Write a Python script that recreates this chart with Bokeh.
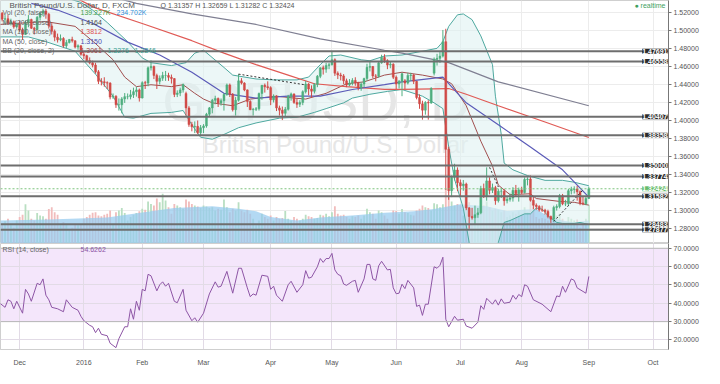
from bokeh.plotting import figure
from bokeh.models import (ColumnDataSource, Range1d, FixedTicker, PrintfTickFormatter,
                          Label, Span, BoxAnnotation, Grid)
from bokeh.layouts import column
from bokeh.embed import file_html
from bokeh.resources import INLINE

# ---------------- data (bar index 0 = 1 Dec 2015, trading days) ----------------
bars = list(range(-6, 196))

opens = [
    1.5190, 1.5125, 1.5130, 1.5080, 1.5095, 1.5040,
    1.5065, 1.5005, 1.4955, 1.5085, 1.5120, 1.5025, 1.5010, 1.5145, 1.5190, 1.5215, 1.5180,
    1.5050, 1.4990, 1.4925, 1.4895, 1.4910, 1.4830, 1.4865, 1.4900, 1.4885, 1.4815, 1.4830,
    1.4735, 1.4720, 1.4665, 1.4640, 1.4615, 1.4540, 1.4435, 1.4430, 1.4420, 1.4415, 1.4260,
    1.4270, 1.4175, 1.4175, 1.4240, 1.4265, 1.4265, 1.4285, 1.4320, 1.4340,
    1.4250, 1.4420, 1.4415, 1.4585, 1.4600, 1.4500, 1.4435, 1.4470, 1.4500, 1.4500, 1.4480,
    1.4465, 1.4290, 1.4305, 1.4340, 1.4300, 1.4140, 1.3955, 1.3930, 1.3935, 1.3865,
    1.3920, 1.3940, 1.4070, 1.4140, 1.4225, 1.4245, 1.4195, 1.4220, 1.4290, 1.4395, 1.4290,
    1.4120, 1.4225, 1.4440, 1.4415, 1.4340, 1.4210, 1.4120, 1.4125, 1.4130, 1.4300, 1.4390, 1.4375,
    1.4365, 1.4230, 1.4270, 1.4140, 1.4115, 1.4080, 1.4125, 1.4270, 1.4295, 1.4200, 1.4180,
    1.4200, 1.4320, 1.4405, 1.4350, 1.4325, 1.4400, 1.4490, 1.4585, 1.4570, 1.4610,
    1.4620, 1.4675, 1.4525, 1.4505, 1.4495, 1.4440, 1.4395, 1.4415, 1.4445, 1.4415, 1.4365,
    1.4405, 1.4465, 1.4590, 1.4600, 1.4495, 1.4490, 1.4640, 1.4700, 1.4665, 1.4615, 1.4625,
    1.4480, 1.4405, 1.4435, 1.4440, 1.4415, 1.4500, 1.4505, 1.4435, 1.4255, 1.4185, 1.4115,
    1.4200, 1.4195, 1.4525, 1.4680, 1.4690, 1.4715, 1.4875, 1.3680, 1.3220, 1.3370, 1.3450,
    1.3310, 1.3275, 1.3295, 1.3030, 1.2935, 1.2920, 1.2955, 1.2975, 1.3245, 1.3165, 1.3330,
    1.3225, 1.3255, 1.3110, 1.3215, 1.3215, 1.3110, 1.3125, 1.3140, 1.3225, 1.3190,
    1.3230, 1.3200, 1.3345, 1.3350, 1.3115, 1.3060, 1.3045, 1.3010, 1.3005, 1.2990, 1.2935,
    1.2905, 1.3035, 1.3045, 1.3165, 1.3075, 1.3075, 1.3220, 1.3235, 1.3240, 1.3210, 1.3085, 1.3075,
    1.31357,
]
highs = [
    1.5205, 1.5170, 1.5170, 1.5130, 1.5110, 1.5085,
    1.5105, 1.5030, 1.5110, 1.5170, 1.5130, 1.5040, 1.5160, 1.5200, 1.5240, 1.5240, 1.5195,
    1.5080, 1.5010, 1.4965, 1.4955, 1.4925, 1.4895, 1.4905, 1.4930, 1.4890, 1.4845, 1.4835,
    1.4760, 1.4730, 1.4700, 1.4665, 1.4640, 1.4560, 1.4470, 1.4480, 1.4435, 1.4425, 1.4300,
    1.4280, 1.4245, 1.4260, 1.4305, 1.4300, 1.4340, 1.4365, 1.4375, 1.4355,
    1.4435, 1.4440, 1.4600, 1.4668, 1.4610, 1.4520, 1.4500, 1.4540, 1.4550, 1.4530, 1.4510,
    1.4470, 1.4335, 1.4365, 1.4410, 1.4320, 1.4160, 1.3985, 1.3990, 1.4000, 1.3950,
    1.3960, 1.4085, 1.4150, 1.4240, 1.4275, 1.4255, 1.4245, 1.4300, 1.4410, 1.4410, 1.4305,
    1.4260, 1.4515, 1.4470, 1.4425, 1.4345, 1.4225, 1.4140, 1.4150, 1.4310, 1.4395, 1.4410, 1.4435,
    1.4380, 1.4290, 1.4280, 1.4165, 1.4155, 1.4150, 1.4285, 1.4310, 1.4300, 1.4240, 1.4225,
    1.4335, 1.4440, 1.4415, 1.4390, 1.4415, 1.4505, 1.4590, 1.4610, 1.4640, 1.4640,
    1.4770, 1.4690, 1.4545, 1.4530, 1.4515, 1.4465, 1.4460, 1.4470, 1.4480, 1.4430, 1.4425,
    1.4475, 1.4630, 1.4665, 1.4605, 1.4515, 1.4660, 1.4730, 1.4735, 1.4680, 1.4650, 1.4635,
    1.4500, 1.4450, 1.4530, 1.4460, 1.4530, 1.4530, 1.4515, 1.4440, 1.4290, 1.4220, 1.4215,
    1.4225, 1.4370, 1.4700, 1.4740, 1.4760, 1.5005, 1.5018, 1.3710, 1.3390, 1.3520, 1.3480,
    1.3345, 1.3340, 1.3310, 1.3040, 1.3030, 1.3055, 1.3030, 1.3275, 1.3300, 1.3480, 1.3370,
    1.3300, 1.3275, 1.3240, 1.3250, 1.3240, 1.3155, 1.3190, 1.3260, 1.3285, 1.3255,
    1.3265, 1.3370, 1.3370, 1.3390, 1.3155, 1.3080, 1.3060, 1.3055, 1.3020, 1.3010, 1.2945,
    1.3055, 1.3070, 1.3185, 1.3185, 1.3120, 1.3240, 1.3265, 1.3270, 1.3275, 1.3225, 1.3155, 1.3150,
    1.32659,
]
lows = [
    1.5100, 1.5065, 1.5065, 1.5055, 1.5020, 1.5020,
    1.4985, 1.4895, 1.4950, 1.5035, 1.5015, 1.4955, 1.5000, 1.5110, 1.5160, 1.5130, 1.5020,
    1.4955, 1.4880, 1.4865, 1.4880, 1.4810, 1.4805, 1.4855, 1.4865, 1.4800, 1.4785, 1.4720,
    1.4680, 1.4650, 1.4625, 1.4590, 1.4520, 1.4405, 1.4390, 1.4375, 1.4350, 1.4235, 1.4240,
    1.4140, 1.4110, 1.4080, 1.4195, 1.4235, 1.4235, 1.4250, 1.4265, 1.4210,
    1.4245, 1.4350, 1.4380, 1.4555, 1.4460, 1.4350, 1.4400, 1.4440, 1.4440, 1.4440, 1.4410,
    1.4260, 1.4260, 1.4270, 1.4310, 1.4055, 1.3930, 1.3880, 1.3860, 1.3850, 1.3835,
    1.3860, 1.3920, 1.4040, 1.4080, 1.4180, 1.4150, 1.4165, 1.4110, 1.4275, 1.4260, 1.4100,
    1.4055, 1.4210, 1.4400, 1.4325, 1.4150, 1.4115, 1.4055, 1.4105, 1.4110, 1.4230, 1.4310, 1.4340,
    1.4170, 1.4200, 1.4105, 1.4055, 1.4005, 1.4040, 1.4110, 1.4220, 1.4185, 1.4140, 1.4150,
    1.4170, 1.4300, 1.4280, 1.4255, 1.4300, 1.4370, 1.4470, 1.4510, 1.4530, 1.4570,
    1.4610, 1.4495, 1.4460, 1.4445, 1.4405, 1.4370, 1.4380, 1.4390, 1.4385, 1.4335, 1.4330,
    1.4370, 1.4440, 1.4545, 1.4470, 1.4435, 1.4475, 1.4630, 1.4640, 1.4570, 1.4580, 1.4460,
    1.4350, 1.4355, 1.4270, 1.4350, 1.4400, 1.4440, 1.4405, 1.4235, 1.4130, 1.4010, 1.4065,
    1.4010, 1.4185, 1.4500, 1.4610, 1.4640, 1.4700, 1.3229, 1.3120, 1.3150, 1.3335, 1.3215,
    1.3155, 1.3220, 1.3005, 1.2798, 1.2900, 1.2840, 1.2920, 1.2960, 1.3140, 1.3110, 1.3180,
    1.3195, 1.3065, 1.3090, 1.3140, 1.3055, 1.3080, 1.3100, 1.3100, 1.3155, 1.3100,
    1.3185, 1.3190, 1.3280, 1.3100, 1.3015, 1.3010, 1.2990, 1.2985, 1.2955, 1.2915, 1.2865,
    1.2885, 1.3000, 1.3025, 1.3060, 1.3050, 1.3050, 1.3180, 1.3190, 1.3110, 1.3060, 1.3060, 1.3060,
    1.31282,
]
closes = [
    1.5125, 1.5130, 1.5080, 1.5095, 1.5040, 1.5065,
    1.5005, 1.4955, 1.5085, 1.5120, 1.5025, 1.5010, 1.5145, 1.5190, 1.5215, 1.5180, 1.5050,
    1.4990, 1.4925, 1.4895, 1.4910, 1.4830, 1.4865, 1.4900, 1.4885, 1.4815, 1.4830, 1.4735,
    1.4720, 1.4665, 1.4640, 1.4615, 1.4540, 1.4435, 1.4430, 1.4420, 1.4415, 1.4260, 1.4270,
    1.4175, 1.4175, 1.4240, 1.4265, 1.4265, 1.4285, 1.4320, 1.4340, 1.4250,
    1.4420, 1.4415, 1.4585, 1.4600, 1.4500, 1.4435, 1.4470, 1.4500, 1.4500, 1.4480, 1.4465,
    1.4290, 1.4305, 1.4340, 1.4400, 1.4140, 1.3955, 1.3930, 1.3935, 1.3865, 1.3920,
    1.3940, 1.4070, 1.4140, 1.4225, 1.4245, 1.4195, 1.4220, 1.4290, 1.4395, 1.4290, 1.4120,
    1.4225, 1.4440, 1.4415, 1.4340, 1.4210, 1.4120, 1.4125, 1.4130, 1.4300, 1.4390, 1.4375, 1.4365,
    1.4230, 1.4270, 1.4140, 1.4115, 1.4080, 1.4125, 1.4270, 1.4295, 1.4200, 1.4180, 1.4200,
    1.4320, 1.4405, 1.4350, 1.4325, 1.4400, 1.4490, 1.4585, 1.4570, 1.4610, 1.4620,
    1.4675, 1.4525, 1.4505, 1.4495, 1.4440, 1.4395, 1.4415, 1.4445, 1.4415, 1.4365, 1.4405,
    1.4465, 1.4590, 1.4600, 1.4495, 1.4490, 1.4640, 1.4700, 1.4665, 1.4615, 1.4625, 1.4480,
    1.4405, 1.4435, 1.4520, 1.4415, 1.4500, 1.4505, 1.4435, 1.4255, 1.4185, 1.4115, 1.4200,
    1.4195, 1.4355, 1.4680, 1.4690, 1.4715, 1.4875, 1.3680, 1.3220, 1.3370, 1.3450, 1.3310,
    1.3275, 1.3295, 1.3030, 1.2935, 1.2920, 1.2955, 1.2975, 1.3245, 1.3165, 1.3330, 1.3225,
    1.3255, 1.3110, 1.3215, 1.3215, 1.3110, 1.3125, 1.3140, 1.3225, 1.3190, 1.3230,
    1.3200, 1.3345, 1.3350, 1.3115, 1.3060, 1.3045, 1.3010, 1.3005, 1.2990, 1.2935, 1.2905,
    1.3035, 1.3045, 1.3165, 1.3075, 1.3075, 1.3220, 1.3235, 1.3240, 1.3210, 1.3085, 1.3075, 1.3135,
    1.32424,
]
volumes = [  # thousands
    120, 135, 150, 110, 95, 140,
    160, 175, 238, 200, 150, 140, 185, 170, 165, 150, 209, 220, 190, 175, 110, 130, 120, 80, 95, 120, 110, 115,
    150, 160, 175, 186, 190, 170, 165, 175, 180, 200, 120, 190, 200, 215, 185, 140, 160, 175, 185, 195,
    210, 205, 255, 240, 230, 273, 250, 302, 260, 220, 180, 240, 230, 220, 210, 267, 255, 240, 230, 225, 215,
    230, 225, 215, 220, 200, 210, 205, 267, 220, 190, 210, 200, 250, 200, 190, 205, 180, 150, 110, 140, 180, 160, 150,
    170, 140, 160, 150, 155, 197, 150, 140, 160, 150, 140, 150, 175, 165, 160, 150, 155, 175, 170, 180, 165,
    190, 226, 180, 170, 175, 160, 150, 165, 160, 170, 150, 170, 210, 190, 180, 150, 200, 190, 170, 150, 110, 200,
    197, 180, 209, 190, 185, 175, 170, 200, 210, 230, 220, 215, 200, 244, 238, 220, 238, 331, 280, 255, 230, 240,
    230, 170, 240, 250, 220, 230, 215, 240, 230, 255, 220, 200, 210, 205, 190, 200, 160, 170, 190, 180, 195,
    180, 220, 190, 260, 220, 160, 150, 155, 150, 140, 130, 190, 170, 180, 150, 120, 160, 150, 140, 145, 95, 120, 150,
    234.702,
]

# volume moving average (20)
vma_x = [-7, 10, 30, 45, 53, 66, 75, 81, 86, 95, 103, 115, 125, 135, 142, 151, 160, 167, 172, 177, 181, 186, 190, 195]
vma_y = [139, 145, 157, 195, 215, 226, 210, 195, 160, 139, 157, 172, 186, 195, 209, 238, 226, 197, 205, 209, 165, 140, 128, 139.227]

# moving averages
ma200_x = [28, 34, 40, 59, 81, 103, 125, 131, 147, 164, 195]
ma200_y = [1.5400, 1.5353, 1.5300, 1.5183, 1.5066, 1.4907, 1.4780, 1.4748, 1.4642, 1.4429, 1.4164]
ma100_x = [18, 26, 43, 59, 70, 81, 92, 101, 112, 125, 131, 147, 153, 164, 180, 195]
ma100_y = [1.5380, 1.5250, 1.5066, 1.4886, 1.4748, 1.4620, 1.4504, 1.4408, 1.4376, 1.4345, 1.4345,
           1.4355, 1.4291, 1.4164, 1.3983, 1.3812]
ma50_x = [4, 13, 25, 37, 48, 59, 70, 81, 92, 103, 114, 125, 131, 145, 153, 164, 175, 186, 195]
ma50_y = [1.5300, 1.5226, 1.5080, 1.4870, 1.4727, 1.4536, 1.4302, 1.4249, 1.4270, 1.4270, 1.4344,
          1.4398, 1.4429, 1.4482, 1.4196, 1.3952, 1.3707, 1.3453, 1.3150]

# Bollinger bands (20, 2)
bb_up_x = [-7, 8, 15, 21, 25, 30, 37, 42, 45, 52, 57, 60, 63, 70, 73, 81, 87, 95, 99, 103, 106, 110,
           117, 120, 125, 131, 138, 143, 145, 147, 150, 152, 155, 158, 162, 163, 165, 166, 169, 174,
           180, 186, 190, 195]
bb_up_y = [1.5360, 1.5380, 1.5370, 1.5311, 1.5226, 1.5088, 1.4875, 1.4695, 1.4642, 1.4610, 1.4642,
           1.4748, 1.4780, 1.4589, 1.4504, 1.4461, 1.4451, 1.4451, 1.4482, 1.4620, 1.4716, 1.4727,
           1.4674, 1.4663, 1.4716, 1.4727, 1.4769, 1.4801, 1.4875, 1.5045, 1.5173, 1.5183, 1.5119,
           1.4939, 1.4620, 1.4270, 1.3846, 1.3527, 1.3453, 1.3389, 1.3336, 1.3336, 1.3315, 1.3276]
bb_lo_x = [-7, 3, 9, 19, 26, 32, 36, 39, 45, 52, 56, 59, 62, 66, 70, 75, 81, 89, 95, 101, 105, 111,
           114, 120, 126, 131, 138, 142, 145, 147, 149, 152, 154, 156, 159, 162, 164, 166, 168, 173,
           175, 177, 179, 181, 184, 186, 190, 192, 195]
bb_lo_y = [1.4928, 1.4928, 1.4875, 1.4769, 1.4514, 1.4270, 1.4036, 1.4026, 1.4079, 1.4090, 1.4111,
           1.3952, 1.3814, 1.3792, 1.3845, 1.3920, 1.3973, 1.4026, 1.4036, 1.4090, 1.4132, 1.4196,
           1.4249, 1.4291, 1.4323, 1.4344, 1.4270, 1.4196, 1.4132, 1.3707, 1.3347, 1.3028, 1.2646,
           1.2518, 1.2465, 1.2518, 1.2646, 1.2869, 1.2890, 1.2964, 1.2964, 1.3028, 1.3017, 1.2943,
           1.2869, 1.2858, 1.2858, 1.2869, 1.2846]
bb_mid_x = [-7, 9, 19, 26, 32, 36, 40, 45, 52, 56, 60, 63, 66, 73, 79, 88, 94, 98, 105, 112, 118,
            125, 131, 138, 145, 148, 153, 158, 162, 164, 168, 175, 177, 185, 190, 195]
bb_mid_y = [1.5066, 1.5098, 1.5045, 1.4854, 1.4674, 1.4482, 1.4376, 1.4397, 1.4376, 1.4397, 1.4302,
            1.4238, 1.4196, 1.4164, 1.4238, 1.4270, 1.4249, 1.4238, 1.4302, 1.4408, 1.4429, 1.4504,
            1.4536, 1.4504, 1.4461, 1.4408, 1.4164, 1.3771, 1.3495, 1.3283, 1.3177, 1.3187, 1.3134,
            1.3102, 1.3092, 1.3061]

# RSI (14)
rsi_x = [-7, -5, -4, -3, -2, -1, 1, 2, 3, 4, 6, 7, 8, 9, 10, 11, 13, 15, 16, 18, 20, 21, 22, 24, 25,
         26, 27, 28, 30, 31, 33, 34, 36, 37, 38, 39, 40, 41, 42, 43, 44, 45, 47, 48, 49, 50, 51, 53,
         54, 56, 57, 59, 60, 61, 63, 65, 67, 68, 69, 71, 73, 75, 76, 78, 79, 80, 81, 83, 85, 86, 87,
         88, 90, 92, 93, 95, 97, 98, 99, 100, 102, 103, 104, 105, 106, 107, 108, 109, 110, 111, 112,
         114, 115, 116, 118, 119, 120, 121, 122, 123, 124, 126, 127, 128, 129, 130, 131, 132, 133,
         135, 136, 137, 138, 139, 140, 142, 143, 144, 145, 146, 147, 149, 150, 152, 153, 155, 157,
         158, 159, 160, 162, 163, 164, 165, 166, 168, 169, 170, 171, 172, 173, 174, 176, 179, 182,
         184, 185, 186, 187, 189, 190, 191, 194, 195]
rsi_y = [40.3, 37.8, 41.9, 41.1, 37.0, 41.1, 34.6, 47.6, 45.1, 41.1, 50.9, 50.1, 53.3, 44.4, 41.9,
         37.8, 37.0, 35.4, 41.9, 37.8, 36.2, 32.9, 30.5, 28.0, 27.2, 24.0, 26.4, 23.1, 22.3, 18.2,
         15.8, 20.7, 27.2, 27.2, 37.0, 31.3, 41.1, 36.2, 47.6, 46.8, 55.8, 55.0, 46.8, 50.1, 51.7,
         49.3, 50.9, 41.1, 40.3, 47.6, 36.2, 30.5, 32.1, 29.7, 34.6, 45.1, 51.7, 48.8, 49.3, 57.4,
         45.5, 59.1, 59.1, 48.4, 43.6, 45.1, 44.4, 55.3, 54.7, 47.6, 49.3, 44.4, 41.1, 50.1, 52.0,
         46.0, 50.1, 57.8, 53.7, 54.2, 59.9, 64.4, 62.3, 64.4, 64.4, 67.2, 58.2, 55.8, 55.0, 50.5,
         49.8, 52.0, 52.5, 46.0, 53.3, 61.2, 61.2, 53.3, 52.5, 60.4, 62.9, 58.2, 58.5, 48.4, 45.2,
         45.5, 50.4, 48.0, 52.5, 48.4, 38.3, 39.0, 33.4, 39.5, 39.5, 59.9, 59.1, 60.7, 65.1, 31.3,
         27.2, 32.9, 30.8, 31.3, 27.6, 26.4, 29.7, 38.7, 36.7, 42.7, 39.5, 41.9, 39.0, 42.4, 40.0,
         40.6, 44.4, 42.2, 44.8, 43.6, 50.1, 49.3, 41.9, 39.5, 35.4, 44.0, 43.6, 49.3, 46.0, 53.3,
         52.5, 48.4, 45.5, 54.6262]

# horizontal support / resistance levels
levels = [1.47691, 1.46558, 1.40407, 1.38358, 1.35000, 1.33774, 1.31582, 1.28483, 1.27877]
last_price = 1.32424

# dotted trend lines (bar, price) -> (bar, price)
tl_x0 = [75, 161, 183]
tl_y0 = [1.4515, 1.3480, 1.2880]
tl_x1 = [98, 164, 193]
tl_y1 = [1.4395, 1.3262, 1.3230]

month_ticks = [0, 22, 42, 63, 86, 107, 129, 151, 172, 195, 217]
month_labels = ["Dec", "2016", "Feb", "Mar", "Apr", "May", "Jun", "Jul", "Aug", "Sep", "Oct"]
price_ticks = [1.26, 1.28, 1.30, 1.32, 1.34, 1.36, 1.38, 1.40, 1.42, 1.44, 1.46, 1.48, 1.50, 1.52]
rsi_ticks = [20, 30, 40, 50, 60, 70]

# ---------------- layout constants ----------------
X0, X1 = -6.56, 222.3
P0, P1 = 1.2635, 1.5332
R0, R1 = 14.8, 72.6
VMAX = 1473.0
W = 704
RB = 36                 # right border (axis)
FW = W - RB             # frame width in px
H1, H2 = 243, 125
FONT = "Liberation Sans"
GRID = "#ececec"


def fx(px):
    """reference pixel column -> bar coordinate (scaled to the frame)"""
    return X0 + (X1 - X0) * px / 698.0


def sx(px):
    """absolute pixel column inside my frame -> bar coordinate (for text)"""
    return X0 + (X1 - X0) * px / FW


def fy(py):
    return P1 - (P1 - P0) * py / 254.0


def fr(py):
    return R1 - (R1 - R0) * (py - 254.0) / 118.0


up = [c >= o for o, c in zip(opens, closes)]
src = ColumnDataSource(dict(
    x=bars, h=highs, l=lows,
    top=[max(o, c) for o, c in zip(opens, closes)],
    bot=[min(o, c) for o, c in zip(opens, closes)],
    col=["#4fae7f" if u else "#d04a47" for u in up],
    vol=volumes,
    vcol=["#b9dfc2" if u else "#f1bcbc" for u in up],
))

xr = Range1d(X0, X1)

# ---------------- price panel ----------------
p1 = figure(width=W, height=H1, x_range=xr, y_range=Range1d(P0, P1),
            x_axis_location=None, y_axis_location="right",
            toolbar_location=None, output_backend="svg",
            min_border_left=0, min_border_top=0, min_border_bottom=0, min_border_right=RB)
p1.extra_y_ranges = {"vol": Range1d(0, VMAX)}
p1.outline_line_color = "#cfcfcf"
p1.background_fill_color = "white"
p1.xgrid.visible = False
p1.ygrid.visible = False
p1.add_layout(Grid(dimension=0, ticker=FixedTicker(ticks=month_ticks), grid_line_color=GRID))
p1.add_layout(Grid(dimension=1, ticker=FixedTicker(ticks=price_ticks), grid_line_color=GRID))

ya = p1.yaxis[0]
ya.ticker = FixedTicker(ticks=price_ticks)
ya.formatter = PrintfTickFormatter(format="%.5f")
ya.major_label_text_font = FONT
ya.major_label_text_font_size = "7px"
ya.major_label_text_color = "#555555"
ya.major_tick_in = 0
ya.major_tick_out = 3
ya.minor_tick_line_color = None
ya.major_tick_line_color = "#777777"
ya.axis_line_color = "#777777"
ya.major_label_standoff = 2

# watermark
p1.add_layout(Label(x=fx(330), y=fy(106), text="GBPUSD, D", text_align="center",
                    text_baseline="middle", text_font=FONT, text_font_size="56px",
                    text_color="#e6e6e6", level="underlay"))
p1.add_layout(Label(x=fx(350), y=fy(150), text="British Pound/U.S. Dollar", text_align="center",
                    text_baseline="middle", text_font=FONT, text_font_size="24px",
                    text_color="#e6e6e6", level="underlay"))

# volume + its moving average
p1.vbar(x="x", width=0.62, top="vol", bottom=0, y_range_name="vol",
        fill_color="vcol", line_color=None, source=src)
p1.varea(x=vma_x, y1=[0] * len(vma_x), y2=vma_y, y_range_name="vol",
         fill_color="#96cbee", fill_alpha=0.72)

# bollinger fill + lines
p1.patch(bb_up_x + bb_lo_x[::-1], bb_up_y + bb_lo_y[::-1],
         fill_color="#dff1f2", fill_alpha=0.6, line_color=None)
p1.line(bb_up_x, bb_up_y, line_color="#4ea89f", line_width=1)
p1.line(bb_lo_x, bb_lo_y, line_color="#4ea89f", line_width=1)
p1.line(bb_mid_x, bb_mid_y, line_color="#a14f4f", line_width=1)

# moving averages
p1.line(ma200_x, ma200_y, line_color="#7f7f92", line_width=1.2)
p1.line(ma100_x, ma100_y, line_color="#e05a55", line_width=1.2)
p1.line(ma50_x, ma50_y, line_color="#5b5bb8", line_width=1.2)

# candles
p1.segment(x0="x", y0="l", x1="x", y1="h", line_color="col", line_width=1, source=src)
p1.vbar(x="x", width=0.66, top="top", bottom="bot", fill_color="col", line_color="col",
        line_width=0.5, source=src)

# trend lines
p1.segment(x0=tl_x0, y0=tl_y0, x1=tl_x1, y1=tl_y1, line_color="#333333",
           line_width=1, line_dash="2 2")

# level lines and price tags at the right edge
for lv in levels:
    p1.add_layout(Span(location=lv, dimension="width", line_color="#6e6e6e", line_width=2))
p1.add_layout(Span(location=last_price, dimension="width", line_color="#7cc47c",
                   line_width=1, line_dash="2 2"))
for lv in levels:
    p1.add_layout(Label(x=X1, y=lv, x_offset=-1, text="%.5f" % lv, text_align="right",
                        text_baseline="middle", text_font=FONT, text_font_size="7px",
                        text_font_style="bold", text_color="white",
                        background_fill_color="#2b2b2b"))
p1.add_layout(Label(x=X1, y=last_price, x_offset=-1, text="%.5f" % last_price, text_align="right",
                    text_baseline="middle", text_font=FONT, text_font_size="7px",
                    text_font_style="bold", text_color="white",
                    background_fill_color="#66bb6a"))

# header and legend
p1.add_layout(Label(x=sx(9), y=fy(1), text="British Pound/U.S. Dollar, D, FXCM",
                    text_baseline="top", text_font=FONT, text_font_size="8px",
                    text_color="#555555"))
p1.add_layout(Label(x=sx(160), y=fy(1.5),
                    text="O 1.31357  H 1.32659  L 1.31282  C 1.32424",
                    text_baseline="top", text_font=FONT, text_font_size="7px",
                    text_color="#555555"))
p1.add_layout(Label(x=X1, y=fy(1.5), x_offset=-3, text="\u25cf realtime", text_align="right",
                    text_baseline="top", text_font=FONT, text_font_size="7px",
                    text_color="#3f9f5f"))

legend_rows = [
    ("Vol (20, false)", 12.5, [("139.227K", 80, "#43a047"), ("234.702K", 116, "#2f8fd8")]),
    ("MA (200, close)", 22.5, [("1.4164", 80, "#4a4a4a")]),
    ("MA (100, close)", 32.5, [("1.3812", 80, "#e0524f")]),
    ("MA (50, close)", 42.5, [("1.3150", 80, "#4b4bb0")]),
    ("BB (20, close, 2)", 52.5, [("1.3061", 80, "#a04a4a"), ("1.3276", 107, "#3a9f93"),
                                 ("1.2846", 134, "#3a9f93")]),
]
for name, yy, vals in legend_rows:
    p1.add_layout(Label(x=sx(2), y=fy(yy), text=name, text_baseline="middle",
                        text_font=FONT, text_font_size="7px", text_color="#666666"))
    for txt, xx, colr in vals:
        p1.add_layout(Label(x=sx(xx), y=fy(yy), text=txt, text_baseline="middle",
                            text_font=FONT, text_font_size="7px", text_color=colr))

# ---------------- RSI panel ----------------
p2 = figure(width=W, height=H2, x_range=xr, y_range=Range1d(R0, R1),
            y_axis_location="right", toolbar_location=None, output_backend="svg",
            min_border_left=0, min_border_top=0, min_border_bottom=0, min_border_right=RB)
p2.outline_line_color = "#cfcfcf"
p2.xgrid.visible = False
p2.ygrid.visible = False
p2.add_layout(BoxAnnotation(bottom=30, top=70, fill_color="#f4e6fb", fill_alpha=1.0,
                            line_color=None, level="underlay"))
p2.add_layout(Grid(dimension=0, ticker=FixedTicker(ticks=month_ticks), grid_line_color="#e2dbe6"))
p2.add_layout(Grid(dimension=1, ticker=FixedTicker(ticks=rsi_ticks), grid_line_color="#e2dbe6"))
p2.add_layout(Span(location=70, dimension="width", line_color="#b8b8b8", line_width=1))
p2.add_layout(Span(location=30, dimension="width", line_color="#b8b8b8", line_width=1))

p2.line(rsi_x, rsi_y, line_color="#8d55a5", line_width=1)

p2.add_layout(Label(x=sx(2), y=fr(260.5), text="RSI (14, close)", text_baseline="middle",
                    text_font=FONT, text_font_size="7px", text_color="#666666"))
p2.add_layout(Label(x=sx(80), y=fr(260.5), text="54.6262", text_baseline="middle",
                    text_font=FONT, text_font_size="7px", text_color="#8d55a5"))

ra = p2.yaxis[0]
ra.ticker = FixedTicker(ticks=rsi_ticks)
ra.formatter = PrintfTickFormatter(format="%.4f")
ra.major_label_text_font = FONT
ra.major_label_text_font_size = "7px"
ra.major_label_text_color = "#555555"
ra.major_tick_in = 0
ra.major_tick_out = 3
ra.minor_tick_line_color = None
ra.major_tick_line_color = "#777777"
ra.axis_line_color = "#777777"
ra.major_label_standoff = 2

xa = p2.xaxis[0]
xa.ticker = FixedTicker(ticks=month_ticks)
xa.major_label_overrides = {t: s for t, s in zip(month_ticks, month_labels)}
xa.major_label_text_font = FONT
xa.major_label_text_font_size = "7px"
xa.major_label_text_color = "#555555"
xa.major_tick_line_color = None
xa.minor_tick_line_color = None
xa.axis_line_color = "#cfcfcf"
xa.major_label_standoff = 3

layout = column(p1, p2)
open("out.html", "w").write(file_html(layout, INLINE))
